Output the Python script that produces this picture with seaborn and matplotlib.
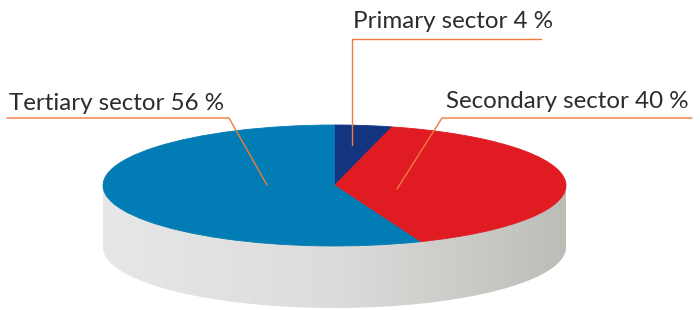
import numpy as np
import matplotlib
matplotlib.use("Agg")
import matplotlib.pyplot as plt
from matplotlib.path import Path
from matplotlib.patches import PathPatch
import seaborn as sns

# Data
sectors = ["Primary sector", "Secondary sector", "Tertiary sector"]
shares = [4, 40, 56]
colors = ["#13357f", "#e01b22", "#017cb5"]

sns.set_theme(style="white")
plt.rcParams["font.family"] = ["Lato", "DejaVu Sans"]

W, H = 700, 310
fig = plt.figure(figsize=(W / 100, H / 100), dpi=100)
fig.patch.set_facecolor("white")

# background axes in pixel coordinates
bg = fig.add_axes([0, 0, 1, 1])
bg.set_xlim(0, W)
bg.set_ylim(H, 0)
bg.axis("off")

# ellipse geometry (pixels)
cx, cy, a, b, depth = 334.5, 185.5, 231.5, 60.5, 62

# cylinder side with horizontal grey gradient
t = np.linspace(np.pi, 0, 200)
xs = cx + a * np.cos(t)
ys = cy + depth + b * np.sin(t)
verts = list(zip(xs, ys)) + [(cx + a, cy), (cx - a, cy), (cx - a, cy + depth)]
clip = PathPatch(Path(verts), facecolor="none", edgecolor="none")
bg.add_patch(clip)
grad = np.linspace(0, 1, 256).reshape(1, -1)
cmap = matplotlib.colors.LinearSegmentedColormap.from_list(
    "side", ["#e6e7e8", "#dcdcdb", "#bdbdb8"])
im = bg.imshow(grad, cmap=cmap, aspect="auto",
               extent=(cx - a, cx + a, cy + depth + b + 2, cy), zorder=1)
im.set_clip_path(clip)

# top of the pie, squashed into an ellipse
pie_ax = fig.add_axes([(cx - a) / W, (H - cy - b) / H, 2 * a / W, 2 * b / H])
wedges, _ = pie_ax.pie(shares, colors=colors, startangle=90, counterclock=False,
                       radius=1, wedgeprops=dict(linewidth=0.6))
for w, c in zip(wedges, colors):
    w.set_edgecolor(c)
pie_ax.set_aspect("auto")
pie_ax.set_xlim(-1, 1)
pie_ax.set_ylim(-1, 1)
pie_ax.axis("off")

# labels with leader lines, drawn on an overlay in pixel coords
ov = fig.add_axes([0, 0, 1, 1])
ov.set_xlim(0, W)
ov.set_ylim(H, 0)
ov.axis("off")
ov.patch.set_alpha(0)

line_col = "#ef7b3a"
txt_col = "#2d2c2b"
labels = [f"{s} {v} %" for s, v in zip(sectors, shares)]
fs = 17.4

# Primary
ov.plot([541, 352, 352], [39, 39, 145], color=line_col, lw=1)
ov.text(353, 28, labels[0], fontsize=fs, color=txt_col, va="baseline")
# Secondary
ov.plot([692, 442, 397], [118, 118, 189], color=line_col, lw=1)
ov.text(446, 108, labels[1], fontsize=fs, color=txt_col, va="baseline")
# Tertiary
ov.plot([7, 229, 267], [118, 118, 185], color=line_col, lw=1)
ov.text(9, 110, labels[2], fontsize=fs, color=txt_col, va="baseline")

fig.savefig("out.png", dpi=100)
